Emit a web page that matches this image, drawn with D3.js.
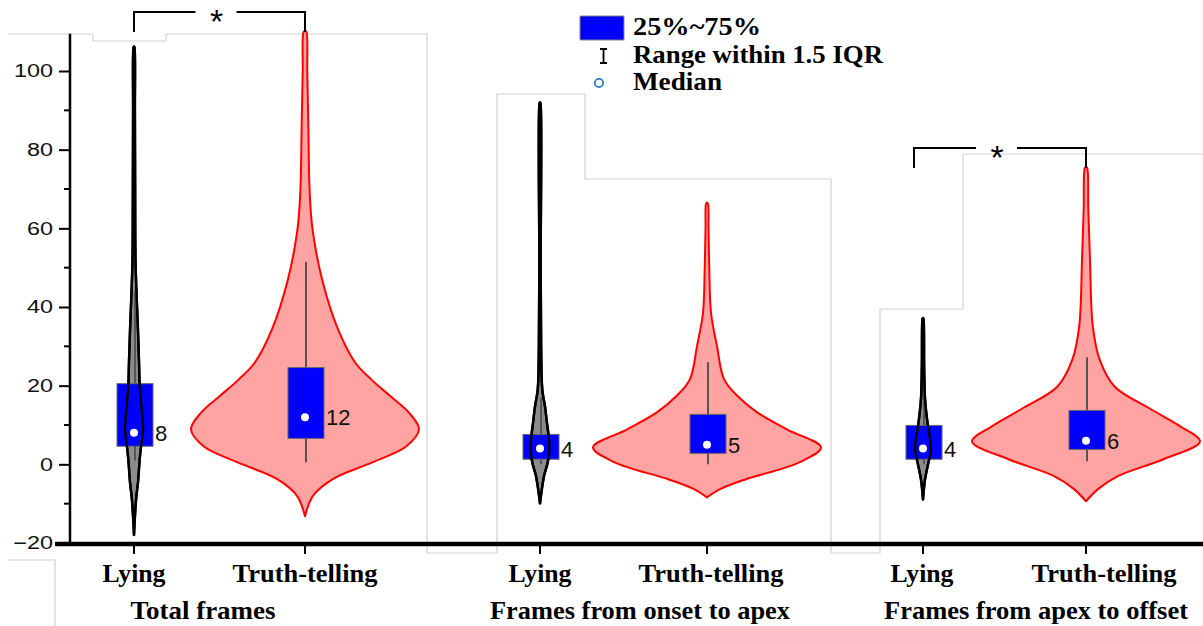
<!DOCTYPE html>
<html>
<head>
<meta charset="utf-8">
<script src="https://cdn.jsdelivr.net/npm/d3@7"></script>
<style>
  html, body { margin: 0; padding: 0; background: #fff; }
  svg { display: block; }
</style>
</head>
<body>
<svg id="chart" width="1203" height="626"></svg>
<script>
// ---- data ----------------------------------------------------------------
const groups = ["Total frames", "Frames from onset to apex", "Frames from apex to offset"];
const conditions = ["Lying", "Truth-telling"];

const yMajorTicks = [-20, 0, 20, 40, 60, 80, 100];
const yMinorTicks = [-10, 10, 30, 50, 70, 90];

// kernel density outlines: [frames, relative density]
const totalLyingDensity = [[-18, 0], [-9, 0.018], [-4.6, 0.035], [1.3, 0.05], [4.6, 0.062], [9, 0.079], [13, 0.07], [20, 0.05], [26, 0.044], [34, 0.035], [51, 0.014], [70, 0.01], [90, 0.008], [106, 0.004], [106.2, 0]];
const totalTruthDensity = [[-13.2, 0], [-8, 0.07], [-3.8, 0.24], [0.5, 0.59], [4.6, 0.89], [8.9, 1.0], [13.2, 0.91], [17.3, 0.75], [21.6, 0.58], [25.9, 0.44], [34.3, 0.29], [47, 0.15], [60, 0.065], [70, 0.04], [85, 0.03], [100, 0.02], [110, 0.012], [110.2, 0]];
const onsetLyingDensity = [[-10, 0], [-6, 0.018], [-3, 0.035], [0.5, 0.068], [3.8, 0.083], [6.3, 0.079], [10.6, 0.061], [14.7, 0.044], [19, 0.02], [30, 0.01], [50, 0.006], [91.8, 0.004], [92, 0]];
const onsetTruthDensity = [[-8.4, 0], [-6.3, 0.114], [-3.8, 0.34], [0.5, 0.81], [4.3, 1.0], [8.9, 0.7], [13.2, 0.44], [17.3, 0.27], [21.6, 0.15], [30, 0.088], [38.6, 0.035], [50, 0.02], [60, 0.013], [66.3, 0.008], [66.5, 0]];
const offsetLyingDensity = [[-9, 0], [-3.8, 0.018], [0.5, 0.048], [3, 0.066], [5.6, 0.066], [9.6, 0.044], [16.5, 0.018], [25, 0.01], [37, 0.004], [37.2, 0]];
const offsetTruthDensity = [[-9.4, 0], [-6.3, 0.105], [-3, 0.28], [1.3, 0.68], [5.8, 1.0], [9.6, 0.83], [14, 0.57], [19.8, 0.25], [26.6, 0.12], [35, 0.06], [52, 0.035], [65, 0.02], [75.4, 0.01], [75.6, 0]];

// box statistics: [lower whisker, Q1, median, Q3, upper whisker]
const totalLyingBox  = [1, 4.6, 8, 20.5, 44];
const totalTruthBox  = [0.5, 6.6, 12, 24.6, 51.5];
const onsetLyingBox  = [0, 1.3, 4, 7.6, 17];
const onsetTruthBox  = [0, 2.8, 5, 12.7, 26];
const offsetLyingBox = [0, 1.3, 4, 9.9, 22];
const offsetTruthBox = [0.8, 3.8, 6, 13.7, 27.2];

// groups with a significant Lying vs Truth-telling difference
const significantGroups = [0, 2];

const legendLabels = ["25%~75%", "Range within 1.5 IQR", "Median"];

// ---- assemble series --------------------------------------------------------
const densities = [[totalLyingDensity, totalTruthDensity], [onsetLyingDensity, onsetTruthDensity], [offsetLyingDensity, offsetTruthDensity]];
const boxes = [[totalLyingBox, totalTruthBox], [onsetLyingBox, onsetTruthBox], [offsetLyingBox, offsetTruthBox]];
const series = [];
groups.forEach((g, gi) => conditions.forEach((c, ci) => {
  const b = boxes[gi][ci];
  series.push({ group: gi, cond: ci, density: densities[gi][ci],
    lo: b[0], q1: b[1], median: b[2], q3: b[3], hi: b[4] });
}));

// ---- layout -------------------------------------------------------------------
const svg = d3.select("#chart");
const serif = "'Liberation Serif', 'Times New Roman', serif";
const sans = "'Liberation Sans', Arial, sans-serif";

const y = d3.scaleLinear().domain([-20, 100]).range([543, 71]);
const groupSpans = [[134, 305], [540, 707], [923, 1086]];
const xIn = groupSpans.map(s => d3.scalePoint().domain(conditions).range(s));
const xOf = (gi, c) => xIn[gi](c);
const widthScale = d3.scaleLinear().domain([0, 1]).range([0, 114]);
const boxHalf = 18;

// light panel outlines
const frameColor = "#d2d2d2";
const frames = [
  [[8, 34], [93, 34], [93, 41], [166, 41], [166, 34], [427, 34], [427, 553], [497, 553], [497, 94], [585, 94], [585, 179], [831, 179], [831, 553], [880, 553], [880, 309], [963, 309], [963, 154], [1203, 154]],
  [[8, 560], [55, 560], [55, 626]]
];
svg.append("g").selectAll("path").data(frames).join("path")
  .attr("d", d3.line())
  .attr("fill", "none").attr("stroke", frameColor).attr("stroke-width", 1.2);

// ---- y axis -----------------------------------------------------------------
const yAxisG = svg.append("g").attr("transform", "translate(70,0)");
yAxisG.call(d3.axisLeft(y).tickValues(yMajorTicks).tickSize(11).tickPadding(6).tickFormat(d3.format("d")))
  .call(g => g.select(".domain").remove());
yAxisG.selectAll(".tick line").attr("stroke", "#000").attr("stroke-width", 2);
yAxisG.selectAll(".tick text")
  .attr("font-family", sans).attr("font-size", 18).attr("fill", "#111")
  .each(function () {
    const w = this.getComputedTextLength();
    d3.select(this).attr("textLength", w * 1.3).attr("lengthAdjust", "spacingAndGlyphs");
  });
yAxisG.append("g").selectAll("line").data(yMinorTicks).join("line")
  .attr("x1", -6).attr("x2", 0).attr("y1", d => y(d)).attr("y2", d => y(d))
  .attr("stroke", "#000").attr("stroke-width", 2);
yAxisG.append("line").attr("x1", 0).attr("x2", 0)
  .attr("y1", y(109.5)).attr("y2", y(-20) + 1)
  .attr("stroke", "#000").attr("stroke-width", 2.5);

// ---- x axis -----------------------------------------------------------------
svg.append("line").attr("x1", 55).attr("x2", 1203).attr("y1", 544).attr("y2", 544)
  .attr("stroke", "#000").attr("stroke-width", 4.5);
svg.append("g").selectAll("line").data(series).join("line")
  .attr("x1", d => xOf(d.group, conditions[d.cond])).attr("x2", d => xOf(d.group, conditions[d.cond]))
  .attr("y1", 546).attr("y2", 554).attr("stroke", "#000").attr("stroke-width", 2);

const labelShift = [[0, 0], [0, 4], [-1, 18]];
const labelLen = [63, 145];
svg.append("g").selectAll("text").data(series).join("text")
  .attr("x", d => xOf(d.group, conditions[d.cond]) + labelShift[d.group][d.cond])
  .attr("y", 582)
  .attr("text-anchor", "middle")
  .attr("font-family", serif).attr("font-weight", "bold").attr("font-size", 26)
  .attr("textLength", d => labelLen[d.cond]).attr("lengthAdjust", "spacingAndGlyphs")
  .text(d => conditions[d.cond]);

const titleX = [203, 640, 1036];
const titleLen = [145, 300, 304];
svg.append("g").selectAll("text").data(groups).join("text")
  .attr("x", (d, i) => titleX[i]).attr("y", 619)
  .attr("text-anchor", "middle")
  .attr("font-family", serif).attr("font-weight", "bold").attr("font-size", 26)
  .attr("textLength", (d, i) => titleLen[i]).attr("lengthAdjust", "spacingAndGlyphs")
  .text(d => d);

// ---- violins and boxes ---------------------------------------------------------
const fills = ["#8c8c8c", "#ffa3a3"];
const strokes = ["#000", "#ff0000"];
const strokeW = [2.4, 2];

const violinPath = d => {
  const cx = xOf(d.group, conditions[d.cond]);
  return d3.area()
    .curve(d3.curveCatmullRom.alpha(0.5))
    .y(p => y(p[0]))
    .x0(p => cx - widthScale(p[1]))
    .x1(p => cx + widthScale(p[1]))(d.density);
};

const plot = svg.append("g");
const v = plot.selectAll("g.violin").data(series).join("g").attr("class", "violin");

v.append("path").attr("d", violinPath)
  .attr("fill", d => fills[d.cond]).attr("stroke", d => strokes[d.cond])
  .attr("stroke-width", d => strokeW[d.cond]).attr("stroke-linejoin", "round");

v.append("line")
  .attr("x1", d => xOf(d.group, conditions[d.cond]) + 1).attr("x2", d => xOf(d.group, conditions[d.cond]) + 1)
  .attr("y1", d => y(d.lo)).attr("y2", d => y(d.hi))
  .attr("stroke", "#555").attr("stroke-width", 2);

v.append("rect")
  .attr("x", d => xOf(d.group, conditions[d.cond]) + 1 - boxHalf)
  .attr("width", boxHalf * 2)
  .attr("y", d => y(d.q3)).attr("height", d => y(d.q1) - y(d.q3))
  .attr("fill", "#0000ff").attr("stroke", "#666").attr("stroke-width", 1);

// outline of the narrow violins stays visible across the box
v.filter(d => d.cond === 0).append("path").attr("d", violinPath)
  .attr("fill", "none").attr("stroke", "#000").attr("stroke-width", 2.4);

v.append("circle")
  .attr("cx", d => xOf(d.group, conditions[d.cond]))
  .attr("cy", d => y(d.median)).attr("r", 4)
  .attr("fill", "#fff");

v.append("text")
  .attr("x", d => xOf(d.group, conditions[d.cond]) + 1 + boxHalf + 2)
  .attr("y", d => y(d.median) + 8)
  .attr("font-family", sans).attr("font-size", 22).attr("fill", "#111")
  .text(d => d3.format("d")(d.median));

// ---- significance brackets ---------------------------------------------------------
const bracketLeftShift = [0, 0, -9];
significantGroups.forEach(gi => {
  const truth = series.find(s => s.group === gi && s.cond === 1);
  const top = d3.max(truth.density, p => p[0]);
  const yb = y(top) + 1;
  const yt = yb - 20;
  const xl = xOf(gi, conditions[0]) + bracketLeftShift[gi];
  const xr = xOf(gi, conditions[1]);
  const xm = (xl + xr) / 2;
  const g = svg.append("g").attr("fill", "none").attr("stroke", "#000").attr("stroke-width", 2);
  g.append("path").attr("d", d3.line()([[xl, yb], [xl, yt], [xm - 24, yt]]));
  g.append("path").attr("d", d3.line()([[xm + 17, yt], [xr, yt], [xr, yb]]));
  svg.append("text").attr("x", xm - 3).attr("y", yt + 21)
    .attr("text-anchor", "middle").attr("font-family", sans).attr("font-size", 34)
    .attr("fill", "#000").text("*");
});

// ---- legend -----------------------------------------------------------------
const lg = svg.append("g");
lg.append("rect").attr("x", 580).attr("y", 16).attr("width", 44).attr("height", 24)
  .attr("fill", "#0000ff").attr("stroke", "#888").attr("stroke-width", 1);
lg.append("path").attr("d", d3.line()([[600, 49], [607, 49]]) + d3.line()([[603.5, 49], [603.5, 63]]) + d3.line()([[600, 63], [607, 63]]))
  .attr("fill", "none").attr("stroke", "#000").attr("stroke-width", 1.8);
lg.append("circle").attr("cx", 599).attr("cy", 83).attr("r", 4.2)
  .attr("fill", "#fff").attr("stroke", "#2b7bc4").attr("stroke-width", 1.8);
const legendBase = [35, 63, 90];
const legendLen = [128, 250, 89];
lg.selectAll("text").data(legendLabels).join("text")
  .attr("x", 633).attr("y", (d, i) => legendBase[i])
  .attr("font-family", serif).attr("font-weight", "bold").attr("font-size", 26)
  .attr("textLength", (d, i) => legendLen[i]).attr("lengthAdjust", "spacingAndGlyphs")
  .attr("fill", "#000")
  .text(d => d);
</script>
</body>
</html>
